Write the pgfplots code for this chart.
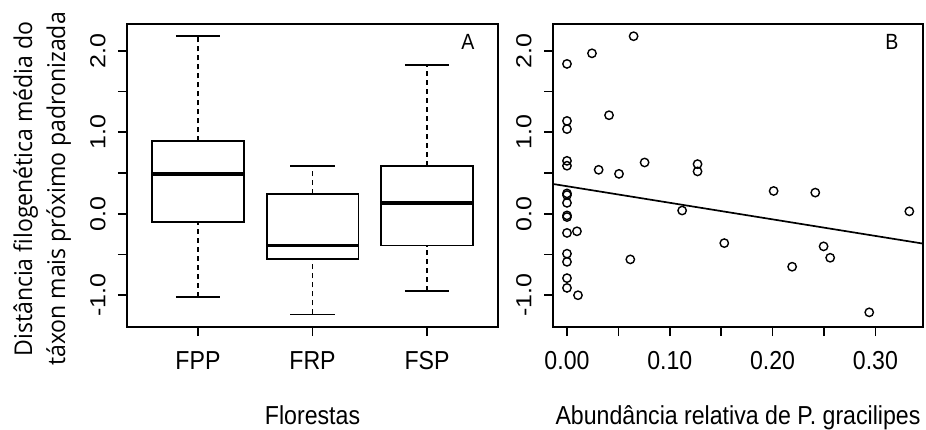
\documentclass[border=0pt]{standalone}
\usepackage{fontspec}
\setmainfont{Liberation Sans}[FakeStretch=0.89]
\newfontfamily\plainfont{Liberation Sans}
\newfontfamily\ylabfont{Open Sans}[FakeStretch=0.94]
\usepackage{graphicx}
\usepackage{pgfplots}
\usepackage{pgfplotstable}
\pgfplotsset{compat=1.18}
\newcommand\tickfont{\fontsize{26}{30}\selectfont}
\newcommand\labfont{\fontsize{26}{31}\selectfont}
\newcommand\yl[1]{\scalebox{1}[0.87]{\plainfont\fontsize{25}{30}\selectfont #1}}

\pgfplotstableread{
x y
0.0648 2.18
0.0243 1.97
0 1.84
0.0409 1.21
0 1.14
0 1.04
0 0.65
0 0.59
0.0308 0.54
0.0506 0.49
0.0755 0.63
0.127 0.61
0.127 0.52
0.201 0.28
0.2415 0.26
0 0.25
0 0.23
0 0.134
0 -0.02
0 -0.04
0 -0.235
0.0097 -0.215
0 -0.49
0 -0.59
0 -0.79
0 -0.91
0.0107 -1.0
0.112 0.04
0.333 0.03
0.153 -0.36
0.0616 -0.56
0.2496 -0.40
0.256 -0.54
0.219 -0.65
0.294 -1.21
}\scatterdata

\pgfplotsset{
  rstyle/.style={
    scale only axis,
    height=303pt,
    anchor=south west,
    axis line style={line width=1.7pt},
    every tick/.style={line width=1.7pt, black},
    tick align=outside,
    major tick length=9pt,
    tick pos=left,
    ymin=-1.39, ymax=2.33,
    ytick={-1,-0.5,...,2},
    yticklabels={\yl{-1.0},,\yl{0.0},,\yl{1.0},,\yl{2.0}},
    yticklabel style={xshift=-9pt, rotate=90, anchor=south},
    xticklabel style={font=\tickfont, yshift=-12pt},
    /pgf/number format/assume math mode=true,
    xlabel style={font=\labfont, at={(rel axis cs:0.5,0)}, anchor=base, yshift=-97pt},
  },
  whisk/.style={black, line width=1.6pt, dash pattern=on 5pt off 4pt},
  solid1/.style={black, line width=1.6pt},
  med/.style={black, line width=3.8pt},
}

\begin{document}
\begin{tikzpicture}
\useasboundingbox (0,0) rectangle (926pt,429pt);

\begin{axis}[rstyle, at={(127pt,102pt)}, width=371pt,
  xmin=0.38, xmax=3.62, xtick={1,2,3}, xticklabels={FPP,FRP,FSP},
  xlabel={Florestas}]
% FPP: lower whisker -1.02, Q1 -0.10, median 0.485, Q3 0.89, upper whisker 2.18
\addplot[whisk] coordinates {(1,-1.02) (1,-0.10)};
\addplot[whisk] coordinates {(1,0.89) (1,2.18)};
\addplot[solid1] coordinates {(0.8075,-1.02) (1.1925,-1.02)};
\addplot[solid1] coordinates {(0.8075,2.18) (1.1925,2.18)};
\addplot[solid1] coordinates {(0.6,-0.10) (1.4,-0.10) (1.4,0.89) (0.6,0.89)} -- cycle;
\addplot[med] coordinates {(0.6,0.485) (1.4,0.485)};
% FRP: -1.235, -0.555, -0.39, 0.24, 0.59
\addplot[whisk] coordinates {(2,-1.235) (2,-0.555)};
\addplot[whisk] coordinates {(2,0.24) (2,0.59)};
\addplot[solid1] coordinates {(1.8075,-1.235) (2.1925,-1.235)};
\addplot[solid1] coordinates {(1.8075,0.59) (2.1925,0.59)};
\addplot[solid1] coordinates {(1.6,-0.555) (2.4,-0.555) (2.4,0.24) (1.6,0.24)} -- cycle;
\addplot[med] coordinates {(1.6,-0.39) (2.4,-0.39)};
% FSP: -0.95, -0.39, 0.13, 0.59, 1.83
\addplot[whisk] coordinates {(3,-0.95) (3,-0.39)};
\addplot[whisk] coordinates {(3,0.59) (3,1.83)};
\addplot[solid1] coordinates {(2.8075,-0.95) (3.1925,-0.95)};
\addplot[solid1] coordinates {(2.8075,1.83) (3.1925,1.83)};
\addplot[solid1] coordinates {(2.6,-0.39) (3.4,-0.39) (3.4,0.59) (2.6,0.59)} -- cycle;
\addplot[med] coordinates {(2.6,0.13) (3.4,0.13)};
\node[font=\fontsize{22}{26}\selectfont] at (rel axis cs:0.919,0.94) {A};
\end{axis}

\begin{axis}[rstyle, at={(553pt,102pt)}, width=370pt,
  xmin=-0.0136, xmax=0.3463, xtick={0,0.05,...,0.30},
  xticklabels={0.00,,0.10,,0.20,,0.30},
  xlabel={Abundância relativa de P. gracilipes}]
\addplot[only marks, mark=o, mark size=4.2pt, mark options={line width=1.4pt, black}] table[x=x,y=y] {\scatterdata};
\addplot[black, line width=1.7pt] coordinates {(-0.0136,0.366) (0.3463,-0.366)};
\node[font=\fontsize{22}{26}\selectfont] at (rel axis cs:0.916,0.94) {B};
\end{axis}

\node[rotate=90, inner sep=0pt] at (42pt,240pt)
  {\ylabfont\fontsize{24.5}{33}\selectfont\begin{tabular}{@{}c@{}}Distância filogenética média do\\
   táxon mais próximo padronizada\end{tabular}};
\end{tikzpicture}
\end{document}
